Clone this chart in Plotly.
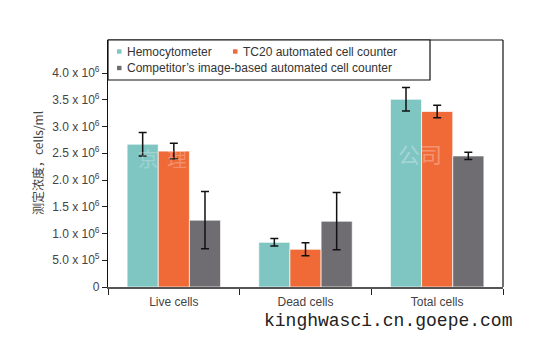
import plotly.graph_objects as go

categories = ["Live cells", "Dead cells", "Total cells"]
series_names = ["Hemocytometer", "TC20 automated cell counter",
                "Competitor\u2019s image-based automated cell counter"]
hemo = [2.67e6, 0.835e6, 3.51e6]
hemo_err = [0.22e6, 0.07e6, 0.22e6]
tc20 = [2.54e6, 0.705e6, 3.28e6]
tc20_err = [0.145e6, 0.12e6, 0.115e6]
comp = [1.25e6, 1.23e6, 2.45e6]
comp_err = [0.535e6, 0.535e6, 0.068e6]
tick_vals = [0, 0.5e6, 1.0e6, 1.5e6, 2.0e6, 2.5e6, 3.0e6, 3.5e6, 4.0e6]
tick_text = ["0", "5.0 x 10<sup>5</sup>", "1.0 x 10<sup>6</sup>", "1.5 x 10<sup>6</sup>",
             "2.0 x 10<sup>6</sup>", "2.5 x 10<sup>6</sup>", "3.0 x 10<sup>6</sup>",
             "3.5 x 10<sup>6</sup>", "4.0 x 10<sup>6</sup>"]
colors = ["#7fc6c3", "#ef6a37", "#6f6d72"]

W, H = 548, 339
L, R, T, B = 108, 45, 40, 52
PW, PH = W - L - R, H - T - B
def px(x): return (x - L) / PW
def py(y): return (H - B - y) / PH

fig = go.Figure()
for name, vals, errs, col in zip(series_names, [hemo, tc20, comp],
                                 [hemo_err, tc20_err, comp_err], colors):
    fig.add_trace(go.Bar(
        x=categories, y=vals, name=name, marker_color=col,
        marker_line=dict(color="rgba(255,255,255,0.7)", width=1),
        error_y=dict(type="data", array=errs, color="#111111", thickness=1.5, width=4),
        showlegend=False))

font = "Liberation Sans, Arial, sans-serif"
fig.update_layout(
    width=W, height=H, margin=dict(l=L, r=R, t=T, b=B),
    paper_bgcolor="white", plot_bgcolor="white",
    barmode="group", bargap=0.29, bargroupgap=0,
    font=dict(family=font, size=12, color="#444444"),
    xaxis=dict(range=[-0.5, 2.5], showline=True, linecolor="#555555", linewidth=1.5,
               mirror=False, ticks="outside", tickson="boundaries", ticklen=6,
               tickcolor="#222222", tickfont=dict(size=12, color="#444444"),
               ticklabelstandoff=3, showgrid=False, zeroline=False),
    yaxis=dict(range=[0, 4.617e6], tickvals=tick_vals, ticktext=tick_text,
               showline=True, linecolor="#111111", linewidth=1.2, mirror=False,
               ticks="outside", ticklen=5, tickcolor="#222222",
               tickfont=dict(size=12, color="#444444"),
               showgrid=False, zeroline=False),
)

shapes = [
    dict(type="line", xref="paper", yref="paper", x0=0, x1=1, y0=1, y1=1,
         line=dict(color="#111111", width=1.2)),
    dict(type="line", xref="paper", yref="paper", x0=1, x1=1, y0=0, y1=1,
         line=dict(color="#111111", width=1.2)),
    dict(type="rect", xref="paper", yref="paper", x0=0, x1=px(430), y0=py(80), y1=1,
         line=dict(color="#111111", width=1.2), fillcolor="white"),
]
legend_pos = [(117, 51.5), (233, 51.5), (117, 68)]
for (lx, ly), col in zip(legend_pos, colors):
    shapes.append(dict(type="rect", xref="paper", yref="paper",
                       x0=px(lx), x1=px(lx + 4.5), y0=py(ly + 2.2), y1=py(ly - 2.2),
                       line=dict(width=0), fillcolor=col))
fig.update_layout(shapes=shapes)

ann = []
for (lx, ly), name in zip(legend_pos, series_names):
    ann.append(dict(x=px(lx + 8), y=py(ly), xref="paper", yref="paper", text=name,
                    showarrow=False, xanchor="left", yanchor="middle",
                    font=dict(size=12, color="#333333", family=font)))
ann.append(dict(x=px(37), y=py(163), xref="paper", yref="paper",
                text="测定浓度，cells/ml", textangle=-90, showarrow=False,
                xanchor="center", yanchor="middle",
                font=dict(size=12, color="#444444",
                          family="Noto Sans CJK SC, Liberation Sans, sans-serif")))
ann.append(dict(x=px(388), y=py(321), xref="paper", yref="paper",
                text="kinghwasci.cn.goepe.com", showarrow=False,
                xanchor="center", yanchor="middle",
                font=dict(size=18, color="#222222", family="Liberation Mono, Courier New, monospace")))
ann.append(dict(x=px(420), y=py(153), xref="paper", yref="paper", text="公司",
                showarrow=False, xanchor="center", yanchor="middle",
                font=dict(size=22, color="rgba(255,255,255,0.3)", family="Noto Sans CJK SC")))
ann.append(dict(x=px(162), y=py(158), xref="paper", yref="paper", text="京  理",
                showarrow=False, xanchor="center", yanchor="middle",
                font=dict(size=20, color="rgba(255,255,255,0.25)", family="Noto Sans CJK SC")))
fig.update_layout(annotations=ann)

fig.write_html("out.html")
